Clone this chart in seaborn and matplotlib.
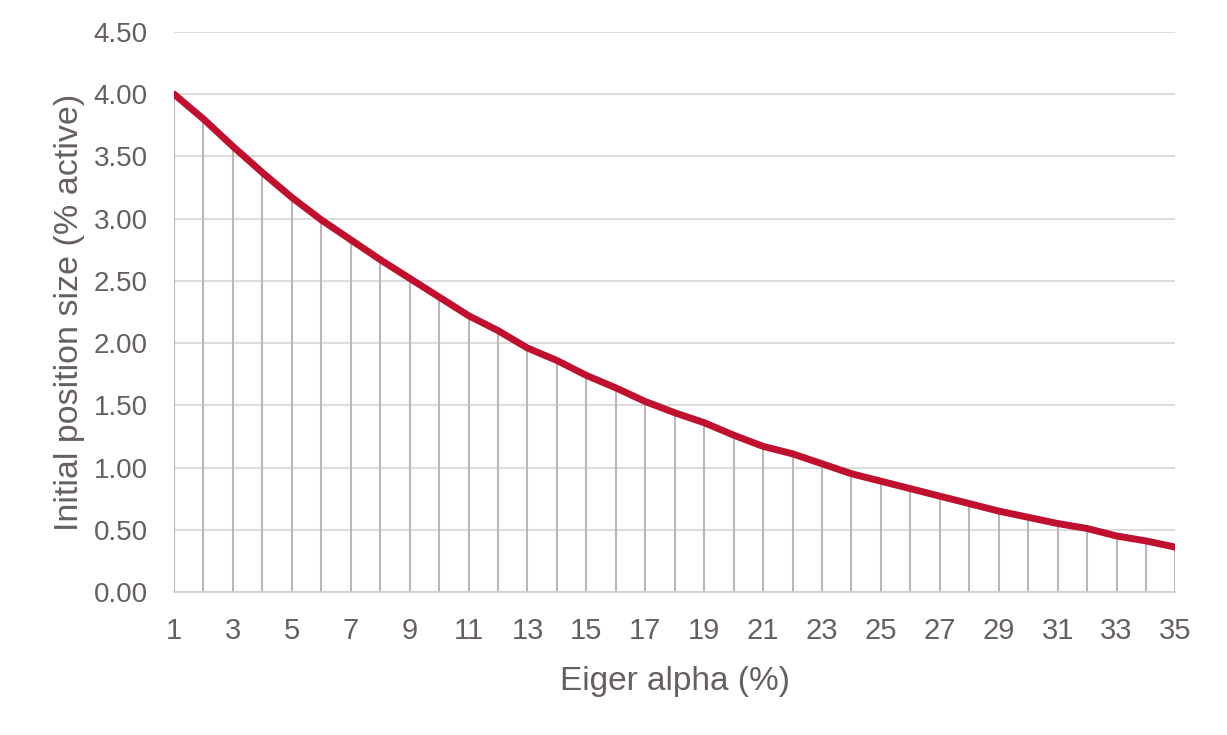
import matplotlib
matplotlib.use("Agg")
import matplotlib.pyplot as plt
import seaborn as sns
import pandas as pd

# Values
alpha = list(range(1, 36))
position_size = [4.00, 3.80, 3.58, 3.37, 3.17, 2.99, 2.83, 2.67, 2.52, 2.37,
                 2.22, 2.10, 1.96, 1.86, 1.74, 1.64, 1.53, 1.44, 1.36, 1.26,
                 1.17, 1.11, 1.03, 0.95, 0.89, 0.83, 0.77, 0.71, 0.65, 0.60,
                 0.55, 0.51, 0.45, 0.41, 0.36]
y_ticks = [0, 0.5, 1.0, 1.5, 2.0, 2.5, 3.0, 3.5, 4.0, 4.5]
x_ticks = list(range(1, 36, 2))

df = pd.DataFrame({'alpha': alpha, 'size': position_size})

sns.set_style('white')
plt.rcParams['font.family'] = ['Liberation Sans', 'DejaVu Sans']

text_col = '#665e62'
fig = plt.figure(figsize=(12.27, 7.35), dpi=100)
ax = fig.add_axes([0.1418, 0.1946, 0.8162, 0.762])

# drop lines from the axis up to each point
ax.vlines(df['alpha'], 0, df['size'], color='#bdb5b8', linewidth=1.5, zorder=2)
sns.lineplot(data=df, x='alpha', y='size', color='#c0102f', linewidth=5,
             ax=ax, zorder=3)

ax.set_xlim(1, 35)
ax.set_ylim(0, 4.5)
ax.set_yticks(y_ticks)
ax.set_yticklabels([f'{v:.2f}' for v in y_ticks])
ax.set_xticks(x_ticks)
ax.yaxis.grid(True, color='#d9d9d9', linewidth=1.3, zorder=0)
ax.set_axisbelow(True)

for s in ['top', 'right', 'left']:
    ax.spines[s].set_visible(False)
ax.spines['bottom'].set_color('#d0d0d0')
ax.spines['bottom'].set_linewidth(1.3)

ax.tick_params(axis='both', length=0, labelcolor=text_col)
ax.tick_params(axis='y', pad=19, labelsize=20)
ax.tick_params(axis='x', pad=18, labelsize=21)
ax.set_xlabel('Eiger alpha (%)', fontsize=24, color=text_col, labelpad=15)
ax.set_ylabel('Initial position size (% active)', fontsize=24.5, color=text_col,
              labelpad=6)

fig.savefig('out.png', dpi=100)
